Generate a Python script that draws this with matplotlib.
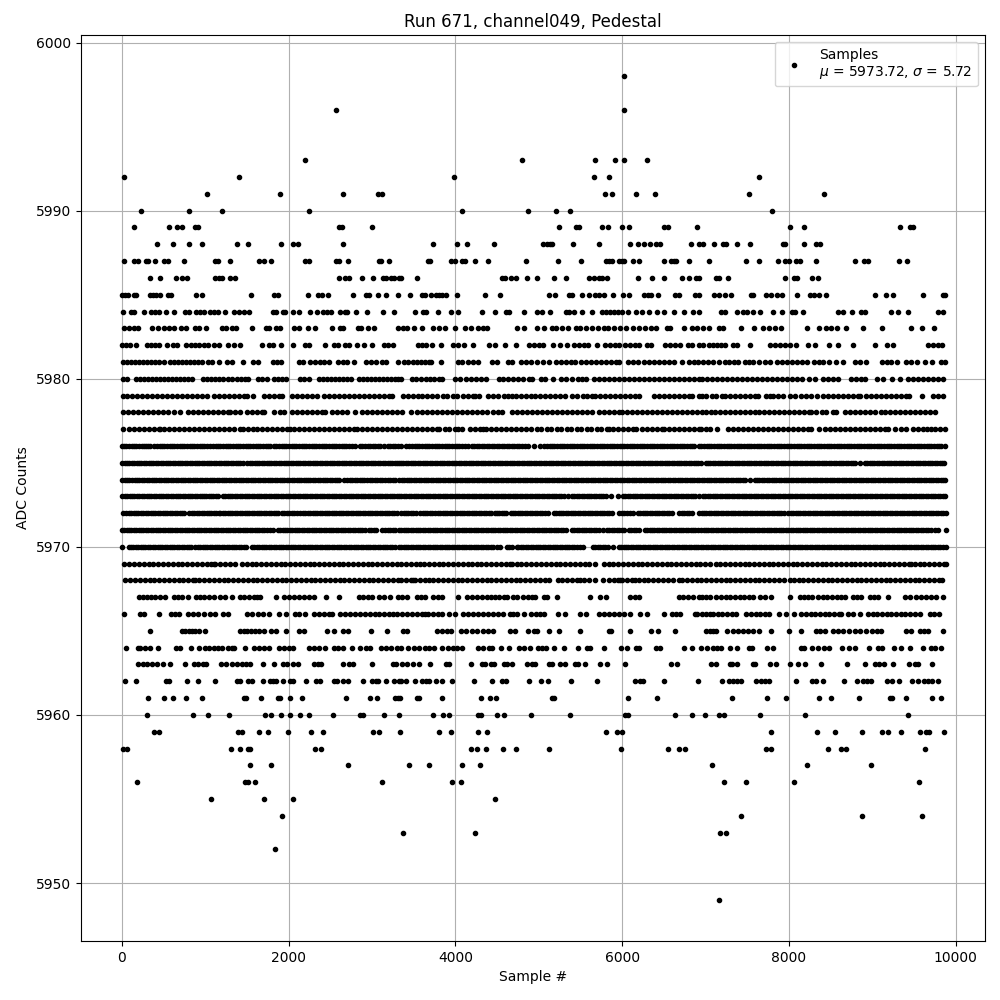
import matplotlib
matplotlib.use('Agg')
import matplotlib.pyplot as plt

# samples, grouped by ADC value
s5998 = [6024]
s5996 = [2564, 6016]
s5993 = [2192, 4804, 5668, 5908, 6016, 6292]
s5992 = [20, 1400, 3988, 5656, 5836, 7640]
s5991 = [1016, 1892, 2648, 3068, 3116, 5788, 5872, 6160, 6388, 7520, 8420]
s5990 = [224, 800, 1196, 2240, 4084, 4876, 5200, 5368, 7796]
s5989 = [140, 560, 656, 716, 872, 908, 2600, 2636, 2996, 5236, 5440, 5476, 5752, 5824, 5992, 6076, 6496, 6544, 6892,
         8012, 8180, 9332, 9452, 9488]
s5988 = [416, 608, 800, 956, 1376, 1508, 1904, 2048, 2108, 2648, 3736, 4024, 4144, 4468, 5044, 5092, 5128, 5152, 5404,
         5716, 6088, 6184, 6256, 6328, 6400, 6448, 6820, 6916, 6968, 7100, 7208, 7244, 7376, 7532, 7928, 7952, 8180,
         8324, 8372]
s5987 = [20, 140, 188, 284, 308, 392, 500, 548, 740, 1112, 1148, 1292, 1640, 1700, 1784, 2192, 2240, 2564, 2600, 2708,
         3080, 3104, 3200, 3676, 3700, 3952, 4000, 4084, 4120, 4240, 4396, 4852, 5224, 5500, 5800, 5836, 5872, 5956,
         5992, 6016, 6124, 6196, 6496, 6580, 6616, 6640, 6796, 7040, 7484, 7640, 7868, 7952, 8000, 8084, 8132, 8324,
         8792, 8900, 8948, 9320, 9416]
s5986 = [332, 452, 644, 716, 776, 1112, 1160, 1196, 1292, 1352, 2600, 2672, 2720, 2876, 3008, 3128, 3164, 3224, 3260,
         3320, 3344, 3544, 4564, 4600, 4672, 4732, 4864, 4972, 5176, 5320, 5596, 5656, 5716, 5752, 5812, 6184, 6352,
         6496, 6712, 6796, 6880, 6916, 7124, 7160, 7268, 7952, 8060, 8096, 8276, 8348]
s5985 = [0, 32, 68, 140, 164, 332, 368, 404, 452, 548, 584, 884, 956, 1544, 1820, 1868, 2228, 2348, 2396, 2468, 2768,
         2924, 2960, 3068, 3164, 3308, 3460, 3604, 3640, 3712, 3772, 3808, 3844, 3892, 4024, 4360, 4540, 5116, 5188,
         5356, 5392, 5512, 5596, 5668, 5716, 5776, 5884, 6004, 6076, 6256, 6304, 6340, 6424, 6628, 6676, 6868, 6916,
         7100, 7160, 7232, 7304, 7544, 7568, 7724, 7784, 7856, 7916, 8096, 8252, 8300, 8360, 8444, 9032, 9164, 9248,
         9608, 9848, 9872]
s5984 = [8, 104, 140, 260, 344, 392, 440, 524, 620, 752, 800, 884, 932, 980, 1052, 1100, 1148, 1232, 1340, 1400, 1460,
         1520, 1808, 1844, 1928, 1952, 2048, 2120, 2252, 2336, 2408, 2456, 2504, 2612, 2672, 2696, 2804, 2936, 3128,
         3260, 3520, 3616, 3652, 3796, 3952, 4036, 4324, 4480, 4612, 4648, 4824, 4972, 5032, 5128, 5320, 5356, 5416,
         5512, 5632, 5752, 5800, 5848, 5896, 5944, 5992, 6064, 6160, 6232, 6316, 6412, 6496, 6616, 6736, 6844, 6916,
         7184, 7232, 7376, 7448, 7496, 7568, 7652, 7808, 7916, 8036, 8072, 8168, 8588, 8648, 8756, 8864, 8912, 9224,
         9308, 9428, 9788, 9848]
s5983 = [20, 80, 140, 188, 356, 428, 500, 560, 620, 704, 764, 872, 920, 1004, 1196, 1244, 1316, 1364, 1556, 1724, 1760,
         1844, 1892, 2060, 2120, 2228, 2312, 2516, 2612, 2648, 2828, 2864, 2948, 3020, 3308, 3376, 3424, 3508, 3604,
         3736, 3808, 3880, 4000, 4120, 4192, 4276, 4336, 4384, 4744, 4828, 4972, 5056, 5152, 5200, 5272, 5344, 5440,
         5488, 5560, 5632, 5704, 5776, 5824, 5896, 5968, 6040, 6124, 6196, 6268, 6340, 6400, 6532, 6568, 6736, 6836,
         6892, 6968, 7040, 7160, 7208, 7424, 7580, 7688, 7760, 7832, 7904, 8216, 8360, 8444, 8504, 8576, 8684, 8888,
         9116, 9464, 9596, 9740]
s5982 = [0, 44, 92, 164, 296, 344, 392, 440, 536, 608, 656, 764, 824, 872, 920, 980, 1028, 1100, 1160, 1268, 1340, 1412,
         1676, 1760, 1808, 1904, 2048, 2192, 2240, 2432, 2540, 2588, 2672, 2720, 2816, 2900, 2996, 3140, 3188, 3248,
         3556, 3604, 3652, 3724, 3832, 3976, 4036, 4108, 4216, 4408, 4480, 4600, 4732, 4888, 4936, 4996, 5044, 5164,
         5248, 5332, 5416, 5476, 5536, 5584, 5692, 5788, 5848, 5908, 5956, 6028, 6088, 6148, 6196, 6292, 6340, 6508,
         6568, 6628, 6688, 6784, 6832, 6920, 6968, 7040, 7088, 7136, 7184, 7232, 7328, 7376, 7532, 7772, 7832, 7892,
         7952, 8012, 8084, 8228, 8312, 8480, 8588, 8768, 9032, 9176, 9248, 9668, 9728, 9788, 9836]
s5981 = [8, 56, 104, 152, 200, 248, 296, 344, 392, 440, 500, 572, 620, 668, 716, 764, 812, 860, 908, 956, 1028, 1076,
         1160, 1256, 1316, 1448, 1568, 1628, 1808, 1856, 1904, 2120, 2168, 2252, 2312, 2372, 2420, 2480, 2588, 2648,
         2696, 2780, 2924, 2984, 3044, 3116, 3164, 3308, 3388, 3436, 3496, 3544, 3592, 3640, 3688, 3712, 3832, 4036,
         4084, 4156, 4216, 4276, 4444, 4504, 4636, 4684, 4792, 4852, 4912, 4972, 5044, 5116, 5200, 5260, 5320, 5380,
         5428, 5500, 5560, 5620, 5680, 5740, 5800, 5860, 5920, 5956, 6064, 6124, 6184, 6256, 6316, 6376, 6436, 6496,
         6556, 6616, 6712, 6796, 6856, 6904, 6968, 7028, 7088, 7160, 7232, 7280, 7340, 7388, 7472, 7520, 7568, 7640,
         7712, 7772, 7856, 7916, 7976, 8036, 8096, 8156, 8216, 8300, 8360, 8408, 8480, 8564, 8648, 8792, 8852, 8924,
         9116, 9176, 9224, 9296, 9404, 9464, 9536, 9632, 9716, 9824, 9872]
s5980 = [8, 56, 164, 212, 260, 308, 356, 404, 452, 500, 548, 596, 644, 692, 740, 788, 836, 968, 1016, 1064, 1112, 1160,
         1208, 1268, 1316, 1376, 1424, 1472, 1508, 1628, 1676, 1736, 1820, 1868, 1916, 1964, 2132, 2180, 2240, 2360,
         2408, 2456, 2504, 2552, 2600, 2648, 2696, 2744, 2840, 2888, 2936, 2984, 3032, 3080, 3128, 3176, 3224, 3272,
         3308, 3352, 3484, 3532, 3592, 3652, 3700, 3748, 3808, 3844, 4000, 4060, 4132, 4192, 4252, 4312, 4372, 4528,
         4576, 4636, 4696, 4756, 4816, 4888, 4924, 5020, 5068, 5164, 5260, 5320, 5392, 5464, 5512, 5560, 5656, 5716,
         5776, 5836, 5896, 5956, 6016, 6076, 6136, 6196, 6256, 6316, 6376, 6436, 6496, 6556, 6616, 6676, 6736, 6796,
         6856, 6916, 6956, 7016, 7076, 7136, 7196, 7256, 7316, 7376, 7436, 7496, 7556, 7616, 7676, 7736, 7796, 7856,
         7916, 7976, 8036, 8096, 8156, 8240, 8312, 8408, 8468, 8528, 8588, 8744, 8804, 8864, 8912, 9056, 9128, 9236,
         9332, 9428, 9488, 9548, 9608, 9668, 9728, 9788, 9848]
s5979 = [8, 60, 124, 180, 244, 300, 364, 420, 484, 540, 604, 660, 724, 780, 844, 900, 964, 1020, 1100, 1160, 1220, 1280,
         1340, 1400, 1460, 1500, 1568, 1700, 1760, 1820, 1880, 1920, 2040, 2100, 2164, 2220, 2284, 2340, 2420, 2484,
         2540, 2604, 2660, 2724, 2780, 2844, 2900, 2960, 3024, 3084, 3144, 3200, 3240, 3376, 3436, 3496, 3556, 3604,
         3664, 3724, 3784, 3848, 3904, 3968, 4024, 4088, 4148, 4208, 4236, 4288, 4396, 4456, 4516, 4580, 4636, 4676,
         4728, 4788, 4848, 4908, 4956, 5008, 5068, 5128, 5188, 5248, 5316, 5400, 5460, 5524, 5580, 5640, 5676, 5728,
         5788, 5852, 5908, 5972, 6028, 6092, 6148, 6196, 6376, 6436, 6500, 6556, 6620, 6676, 6740, 6796, 6836, 6916,
         6952, 7008, 7072, 7128, 7192, 7228, 7288, 7352, 7408, 7472, 7528, 7592, 7628, 7720, 7772, 7808, 7868, 7928,
         8008, 8068, 8148, 8208, 8268, 8336, 8408, 8468, 8532, 8588, 8652, 8708, 8772, 8828, 8856, 8920, 8984, 9040,
         9104, 9160, 9224, 9280, 9344, 9400, 9440, 9600, 9728, 9788, 9848]
s5978 = [12, 72, 132, 196, 252, 316, 372, 436, 492, 556, 620, 692, 788, 852, 908, 972, 1028, 1092, 1148, 1212, 1268,
         1292, 1352, 1420, 1500, 1564, 1620, 1680, 1708, 1820, 1900, 1950, 2040, 2104, 2160, 2224, 2280, 2344, 2400,
         2440, 2520, 2580, 2640, 2700, 2800, 2880, 2940, 3000, 3060, 3120, 3180, 3240, 3300, 3364, 3472, 3536, 3596,
         3660, 3716, 3780, 3836, 3900, 3956, 4020, 4076, 4140, 4196, 4256, 4316, 4376, 4456, 4516, 4556, 4676, 4736,
         4800, 4856, 4920, 4976, 5040, 5096, 5160, 5216, 5280, 5336, 5400, 5456, 5520, 5576, 5636, 5716, 5776, 5840,
         5900, 5960, 5996, 6056, 6116, 6180, 6236, 6300, 6356, 6420, 6476, 6540, 6596, 6660, 6716, 6780, 6836, 6900,
         6952, 7008, 7068, 7108, 7172, 7228, 7292, 7348, 7412, 7468, 7532, 7588, 7640, 7696, 7756, 7820, 7876, 7940,
         7996, 8060, 8116, 8180, 8236, 8268, 8328, 8392, 8448, 8528, 8568, 8668, 8728, 8792, 8848, 8912, 8968, 9032,
         9108, 9148, 9208, 9268, 9332, 9388, 9452, 9508, 9572, 9628, 9692, 9752]
s5977 = [8, 84, 140, 204, 260, 324, 380, 444, 460, 500, 564, 620, 684, 740, 804, 860, 924, 980, 1044, 1100, 1160, 1224,
         1280, 1344, 1412, 1452, 1516, 1576, 1620, 1680, 1744, 1800, 1864, 1920, 1984, 2020, 2060, 2124, 2180, 2244,
         2300, 2364, 2420, 2484, 2540, 2604, 2660, 2724, 2780, 2820, 2880, 2944, 3000, 3064, 3120, 3184, 3240, 3300,
         3356, 3420, 3476, 3540, 3596, 3660, 3716, 3776, 3808, 3872, 3928, 3992, 4036, 4076, 4176, 4240, 4296, 4336,
         4368, 4428, 4492, 4548, 4612, 4668, 4732, 4788, 4852, 4908, 4972, 5028, 5092, 5148, 5212, 5268, 5332, 5388,
         5452, 5508, 5572, 5628, 5692, 5748, 5812, 5836, 5884, 5944, 6008, 6064, 6128, 6168, 6236, 6300, 6360, 6420,
         6480, 6504, 6556, 6620, 6676, 6740, 6796, 6860, 6916, 6948, 7008, 7048, 7136, 7268, 7332, 7388, 7452, 7508,
         7572, 7628, 7692, 7748, 7812, 7868, 7932, 7988, 8052, 8108, 8172, 8228, 8268, 8360, 8428, 8492, 8548, 8612,
         8668, 8732, 8788, 8852, 8908, 8972, 9028, 9092, 9148, 9188, 9268, 9340, 9408, 9488, 9552, 9608, 9660, 9708,
         9748, 9808, 9868]
s5976 = [0, 26, 52, 84, 116, 144, 172, 204, 236, 264, 292, 316, 340, 388, 420, 452, 480, 508, 540, 572, 600, 628, 660,
         692, 720, 748, 780, 812, 840, 868, 900, 932, 960, 988, 1020, 1060, 1092, 1124, 1152, 1180, 1212, 1244, 1272,
         1300, 1332, 1364, 1392, 1420, 1452, 1484, 1512, 1540, 1572, 1604, 1632, 1660, 1692, 1724, 1752, 1780, 1820,
         1852, 1884, 1916, 1944, 1972, 2004, 2036, 2064, 2092, 2124, 2156, 2184, 2212, 2244, 2276, 2304, 2332, 2364,
         2396, 2424, 2452, 2484, 2516, 2544, 2572, 2604, 2636, 2664, 2692, 2724, 2756, 2800, 2852, 2884, 2916, 2948,
         2980, 3010, 3040, 3070, 3100, 3140, 3188, 3220, 3252, 3280, 3310, 3348, 3408, 3448, 3480, 3512, 3540, 3568,
         3600, 3632, 3660, 3688, 3720, 3752, 3780, 3808, 3840, 3872, 3900, 3928, 3960, 3992, 4020, 4048, 4080, 4112,
         4156, 4196, 4228, 4260, 4288, 4316, 4348, 4380, 4408, 4436, 4468, 4500, 4528, 4556, 4588, 4620, 4648, 4676,
         4708, 4740, 4768, 4796, 4836, 4876, 4940, 5016, 5064, 5096, 5128, 5156, 5184, 5216, 5248, 5276, 5304, 5336,
         5368, 5396, 5424, 5456, 5488, 5516, 5544, 5576, 5608, 5636, 5664, 5696, 5728, 5756, 5784, 5816, 5848, 5876,
         5904, 5936, 5968, 5996, 6024, 6056, 6088, 6116, 6144, 6176, 6208, 6236, 6264, 6296, 6328, 6356, 6384, 6416,
         6448, 6476, 6504, 6536, 6568, 6596, 6624, 6656, 6688, 6716, 6744, 6776, 6808, 6836, 6864, 6916, 6948, 6980,
         7012, 7040, 7068, 7100, 7132, 7160, 7188, 7220, 7252, 7280, 7308, 7340, 7372, 7400, 7428, 7460, 7492, 7520,
         7548, 7580, 7612, 7640, 7668, 7700, 7732, 7760, 7788, 7820, 7852, 7880, 7908, 7940, 7972, 8000, 8028, 8060,
         8092, 8120, 8148, 8180, 8212, 8240, 8268, 8300, 8332, 8360, 8388, 8420, 8452, 8480, 8508, 8540, 8572, 8600,
         8628, 8660, 8692, 8720, 8748, 8780, 8812, 8840, 8868, 8900, 8932, 8960, 8988, 9020, 9052, 9080, 9108, 9140,
         9172, 9200, 9228, 9260, 9292, 9320, 9348, 9380, 9412, 9440, 9468, 9500, 9532, 9560, 9588, 9620, 9652, 9680,
         9708, 9740, 9772, 9800, 9828, 9868]
s5975 = [4, 32, 60, 88, 116, 146, 176, 204, 232, 262, 292, 320, 348, 378, 408, 436, 464, 494, 524, 552, 580, 610, 640,
         668, 696, 726, 756, 784, 812, 842, 872, 900, 928, 958, 988, 1016, 1044, 1074, 1104, 1132, 1160, 1190, 1220,
         1248, 1276, 1306, 1336, 1364, 1392, 1422, 1452, 1500, 1532, 1562, 1592, 1620, 1648, 1678, 1708, 1736, 1764,
         1794, 1824, 1852, 1880, 1910, 1940, 1968, 1996, 2026, 2056, 2084, 2112, 2142, 2172, 2200, 2228, 2258, 2288,
         2316, 2344, 2374, 2404, 2432, 2460, 2490, 2520, 2548, 2576, 2606, 2636, 2664, 2692, 2722, 2752, 2780, 2808,
         2838, 2868, 2896, 2924, 2954, 2984, 3012, 3040, 3070, 3100, 3128, 3156, 3186, 3216, 3244, 3272, 3296, 3320,
         3348, 3376, 3404, 3432, 3462, 3492, 3520, 3548, 3578, 3608, 3636, 3664, 3694, 3724, 3752, 3780, 3810, 3840,
         3868, 3896, 3926, 3956, 3984, 4012, 4042, 4072, 4100, 4128, 4158, 4188, 4216, 4244, 4274, 4304, 4332, 4360,
         4390, 4420, 4448, 4476, 4506, 4536, 4564, 4592, 4622, 4652, 4680, 4708, 4738, 4768, 4796, 4824, 4854, 4884,
         4912, 4940, 4970, 5000, 5028, 5056, 5086, 5116, 5144, 5172, 5202, 5232, 5260, 5288, 5318, 5348, 5376, 5404,
         5434, 5464, 5492, 5520, 5550, 5580, 5608, 5636, 5666, 5696, 5724, 5752, 5782, 5812, 5840, 5868, 5898, 5928,
         5956, 5984, 6014, 6044, 6072, 6100, 6130, 6160, 6188, 6216, 6246, 6276, 6304, 6332, 6362, 6392, 6420, 6448,
         6478, 6508, 6536, 6564, 6594, 6624, 6652, 6680, 6710, 6740, 6768, 6796, 6826, 6856, 6884, 6912, 6948, 7000,
         7028, 7056, 7086, 7116, 7144, 7172, 7202, 7232, 7260, 7288, 7318, 7348, 7376, 7404, 7434, 7464, 7492, 7520,
         7550, 7580, 7608, 7636, 7666, 7696, 7724, 7752, 7782, 7812, 7840, 7868, 7898, 7928, 7956, 7984, 8014, 8044,
         8072, 8100, 8130, 8160, 8188, 8216, 8246, 8276, 8304, 8332, 8362, 8392, 8420, 8448, 8478, 8508, 8536, 8564,
         8594, 8624, 8652, 8680, 8710, 8740, 8768, 8796, 8848, 8908, 8938, 8968, 8996, 9024, 9054, 9084, 9112, 9140,
         9170, 9200, 9228, 9256, 9286, 9316, 9344, 9372, 9402, 9432, 9460, 9488, 9518, 9548, 9576, 9604, 9634, 9664,
         9692, 9720, 9750, 9780, 9808, 9836, 9856]
s5974 = [4, 32, 60, 88, 116, 160, 180, 210, 240, 268, 296, 326, 356, 384, 412, 442, 472, 500, 528, 558, 588, 616, 644,
         674, 704, 732, 760, 790, 820, 848, 876, 906, 936, 964, 992, 1022, 1052, 1080, 1108, 1138, 1168, 1196, 1224,
         1254, 1284, 1312, 1340, 1370, 1400, 1428, 1456, 1486, 1516, 1544, 1572, 1602, 1632, 1660, 1688, 1718, 1748,
         1776, 1804, 1834, 1864, 1892, 1920, 1950, 1980, 2008, 2036, 2066, 2096, 2124, 2152, 2182, 2212, 2236, 2260,
         2290, 2320, 2348, 2376, 2406, 2436, 2464, 2492, 2522, 2552, 2580, 2608, 2660, 2704, 2734, 2764, 2792, 2820,
         2850, 2880, 2900, 2940, 2970, 3000, 3030, 3060, 3090, 3120, 3160, 3188, 3216, 3246, 3276, 3320, 3356, 3386,
         3416, 3444, 3472, 3502, 3532, 3560, 3588, 3618, 3648, 3676, 3704, 3734, 3764, 3792, 3820, 3850, 3880, 3908,
         3936, 3966, 3996, 4024, 4052, 4082, 4112, 4140, 4168, 4198, 4228, 4256, 4284, 4314, 4344, 4372, 4400, 4430,
         4460, 4488, 4516, 4546, 4576, 4604, 4632, 4662, 4692, 4720, 4748, 4778, 4808, 4836, 4864, 4894, 4924, 4952,
         4980, 5010, 5040, 5068, 5096, 5126, 5156, 5184, 5212, 5242, 5272, 5300, 5328, 5358, 5388, 5416, 5444, 5474,
         5504, 5532, 5560, 5590, 5620, 5648, 5676, 5706, 5736, 5764, 5792, 5822, 5852, 5880, 5908, 5938, 5968, 5996,
         6024, 6054, 6084, 6112, 6140, 6170, 6200, 6228, 6256, 6286, 6316, 6344, 6372, 6402, 6432, 6460, 6488, 6518,
         6548, 6576, 6604, 6634, 6664, 6692, 6720, 6750, 6780, 6808, 6836, 6866, 6896, 6924, 6952, 6982, 7012, 7040,
         7068, 7098, 7128, 7156, 7184, 7214, 7244, 7272, 7300, 7330, 7360, 7388, 7416, 7446, 7476, 7528, 7588, 7616,
         7644, 7674, 7704, 7732, 7760, 7790, 7820, 7848, 7876, 7906, 7936, 7964, 7992, 8022, 8052, 8080, 8108, 8138,
         8168, 8196, 8224, 8254, 8284, 8312, 8340, 8370, 8400, 8428, 8456, 8486, 8516, 8544, 8572, 8602, 8632, 8660,
         8688, 8718, 8748, 8776, 8804, 8834, 8864, 8892, 8920, 8950, 8980, 9008, 9036, 9066, 9096, 9124, 9152, 9182,
         9212, 9240, 9268, 9298, 9328, 9356, 9384, 9414, 9444, 9472, 9500, 9530, 9560, 9588, 9616, 9646, 9676, 9704,
         9732, 9762, 9792, 9820, 9848, 9868]
s5973 = [4, 34, 64, 92, 120, 150, 180, 208, 236, 266, 296, 324, 352, 382, 412, 440, 468, 498, 528, 556, 584, 614, 644,
         672, 700, 730, 760, 788, 816, 846, 876, 904, 932, 960, 980, 1010, 1040, 1068, 1096, 1126, 1156, 1212, 1240,
         1268, 1296, 1326, 1356, 1384, 1412, 1442, 1472, 1500, 1528, 1558, 1588, 1616, 1644, 1674, 1704, 1732, 1760,
         1790, 1820, 1848, 1876, 1906, 1936, 1964, 1992, 2022, 2052, 2080, 2108, 2138, 2168, 2196, 2224, 2254, 2284,
         2312, 2340, 2370, 2400, 2428, 2456, 2486, 2516, 2544, 2572, 2602, 2632, 2660, 2688, 2718, 2748, 2776, 2804,
         2834, 2864, 2892, 2920, 2950, 2980, 3008, 3036, 3066, 3096, 3124, 3152, 3182, 3212, 3240, 3268, 3296, 3320,
         3352, 3382, 3412, 3440, 3468, 3498, 3528, 3556, 3584, 3614, 3644, 3672, 3700, 3730, 3760, 3788, 3816, 3846,
         3876, 3904, 3932, 3962, 3992, 4020, 4048, 4078, 4108, 4136, 4164, 4194, 4224, 4252, 4280, 4310, 4340, 4368,
         4396, 4426, 4456, 4484, 4512, 4542, 4572, 4600, 4628, 4658, 4688, 4716, 4744, 4774, 4804, 4832, 4860, 4890,
         4920, 4948, 4976, 5006, 5036, 5064, 5092, 5122, 5152, 5180, 5208, 5238, 5268, 5296, 5344, 5396, 5426, 5456,
         5484, 5512, 5542, 5572, 5600, 5628, 5658, 5688, 5716, 5744, 5774, 5804, 5864, 5944, 6008, 6036, 6064, 6094,
         6124, 6152, 6180, 6210, 6240, 6268, 6296, 6326, 6356, 6384, 6412, 6442, 6472, 6500, 6528, 6558, 6588, 6616,
         6644, 6674, 6704, 6732, 6760, 6790, 6820, 6848, 6876, 6916, 6968, 6996, 7024, 7054, 7084, 7112, 7140, 7170,
         7200, 7228, 7256, 7286, 7316, 7344, 7372, 7402, 7432, 7460, 7488, 7518, 7548, 7576, 7604, 7634, 7664, 7692,
         7720, 7750, 7780, 7808, 7836, 7866, 7896, 7924, 7952, 7982, 8012, 8040, 8068, 8098, 8128, 8156, 8184, 8214,
         8244, 8272, 8300, 8330, 8360, 8388, 8416, 8446, 8476, 8504, 8532, 8562, 8592, 8620, 8648, 8678, 8708, 8736,
         8764, 8794, 8824, 8852, 8880, 8910, 8940, 8968, 8996, 9026, 9056, 9088, 9120, 9148, 9176, 9206, 9236, 9264,
         9292, 9322, 9352, 9380, 9408, 9438, 9468, 9496, 9524, 9554, 9584, 9612, 9640, 9670, 9700, 9728, 9756, 9786,
         9816, 9844, 9868]
s5972 = [8, 52, 82, 112, 140, 168, 198, 228, 256, 284, 314, 344, 372, 400, 430, 460, 488, 516, 546, 576, 604, 632, 662,
         692, 720, 748, 800, 840, 870, 900, 928, 956, 986, 1016, 1044, 1072, 1102, 1132, 1160, 1180, 1210, 1240, 1268,
         1296, 1326, 1356, 1384, 1412, 1442, 1472, 1500, 1528, 1558, 1588, 1616, 1644, 1674, 1704, 1732, 1760, 1790,
         1820, 1848, 1876, 1920, 1950, 1980, 2010, 2038, 2066, 2100, 2140, 2170, 2200, 2228, 2256, 2286, 2316, 2344,
         2372, 2402, 2432, 2460, 2488, 2518, 2548, 2572, 2600, 2628, 2656, 2686, 2716, 2744, 2772, 2802, 2832, 2860,
         2888, 2918, 2948, 2976, 3004, 3034, 3064, 3092, 3120, 3150, 3180, 3208, 3236, 3266, 3296, 3348, 3378, 3408,
         3436, 3464, 3494, 3524, 3576, 3606, 3636, 3664, 3692, 3724, 3756, 3788, 3818, 3848, 3876, 3904, 3934, 3964,
         3992, 4020, 4050, 4080, 4108, 4136, 4166, 4196, 4224, 4252, 4282, 4312, 4340, 4368, 4398, 4428, 4476, 4496,
         4526, 4556, 4584, 4612, 4664, 4688, 4718, 4748, 4776, 4804, 4834, 4864, 4892, 4920, 4950, 4980, 5008, 5036,
         5070, 5104, 5176, 5206, 5236, 5264, 5292, 5322, 5352, 5380, 5408, 5438, 5468, 5496, 5524, 5554, 5584, 5612,
         5640, 5670, 5700, 5728, 5756, 5786, 5816, 5844, 5876, 5956, 5996, 6026, 6056, 6090, 6124, 6184, 6214, 6244,
         6272, 6300, 6330, 6360, 6388, 6416, 6446, 6476, 6504, 6532, 6562, 6592, 6676, 6716, 6746, 6776, 6804, 6832,
         6916, 6952, 6980, 7008, 7038, 7068, 7096, 7124, 7154, 7184, 7212, 7240, 7270, 7300, 7328, 7356, 7386, 7416,
         7444, 7472, 7502, 7532, 7560, 7588, 7618, 7648, 7676, 7704, 7734, 7764, 7792, 7820, 7850, 7880, 7908, 7936,
         7988, 8020, 8050, 8080, 8108, 8136, 8166, 8196, 8224, 8252, 8282, 8312, 8340, 8368, 8398, 8428, 8456, 8484,
         8514, 8544, 8572, 8600, 8630, 8660, 8688, 8716, 8746, 8776, 8804, 8832, 8862, 8892, 8920, 8948, 8978, 9008,
         9036, 9064, 9094, 9124, 9152, 9180, 9210, 9240, 9268, 9296, 9326, 9356, 9384, 9412, 9442, 9472, 9500, 9528,
         9558, 9588, 9616, 9644, 9674, 9704, 9732, 9760, 9790, 9820, 9850, 9880]
s5971 = [0, 28, 56, 84, 112, 142, 172, 200, 228, 258, 288, 316, 344, 374, 404, 432, 460, 490, 520, 548, 576, 606, 636,
         664, 692, 722, 752, 780, 808, 838, 868, 896, 924, 954, 984, 1012, 1040, 1070, 1100, 1128, 1156, 1186, 1216,
         1244, 1272, 1302, 1332, 1360, 1388, 1418, 1448, 1476, 1504, 1534, 1564, 1592, 1620, 1650, 1680, 1708, 1736,
         1774, 1812, 1868, 1898, 1928, 1956, 1984, 2014, 2044, 2072, 2100, 2130, 2160, 2188, 2216, 2246, 2276, 2304,
         2332, 2362, 2392, 2420, 2448, 2478, 2508, 2536, 2564, 2594, 2624, 2652, 2680, 2710, 2740, 2768, 2796, 2826,
         2856, 2884, 2912, 2960, 2988, 3018, 3048, 3120, 3160, 3190, 3220, 3248, 3276, 3320, 3348, 3378, 3408, 3436,
         3464, 3494, 3524, 3552, 3580, 3610, 3640, 3668, 3696, 3726, 3756, 3784, 3812, 3842, 3872, 3900, 3928, 3958,
         3988, 4016, 4044, 4074, 4104, 4132, 4160, 4190, 4220, 4248, 4276, 4306, 4336, 4364, 4392, 4422, 4452, 4480,
         4508, 4538, 4568, 4596, 4624, 4654, 4684, 4712, 4740, 4770, 4800, 4828, 4856, 4886, 4916, 4944, 4972, 5002,
         5032, 5060, 5088, 5118, 5148, 5176, 5204, 5234, 5264, 5292, 5320, 5396, 5424, 5454, 5484, 5512, 5540, 5570,
         5600, 5628, 5656, 5686, 5716, 5764, 5816, 5846, 5876, 5904, 5932, 5962, 5992, 6024, 6076, 6106, 6136, 6166,
         6196, 6268, 6298, 6328, 6356, 6384, 6414, 6444, 6472, 6500, 6530, 6560, 6588, 6616, 6646, 6676, 6704, 6732,
         6762, 6792, 6820, 6848, 6878, 6908, 6948, 6976, 7004, 7034, 7064, 7092, 7120, 7150, 7180, 7208, 7236, 7266,
         7296, 7324, 7352, 7382, 7412, 7440, 7468, 7498, 7528, 7556, 7584, 7614, 7644, 7672, 7700, 7730, 7760, 7788,
         7816, 7846, 7876, 7904, 7932, 7962, 7992, 8020, 8048, 8078, 8108, 8136, 8164, 8188, 8216, 8246, 8276, 8304,
         8332, 8362, 8392, 8420, 8448, 8478, 8508, 8536, 8564, 8594, 8624, 8652, 8680, 8710, 8740, 8768, 8796, 8826,
         8856, 8884, 8912, 8942, 8972, 9000, 9028, 9058, 9088, 9116, 9144, 9174, 9204, 9232, 9260, 9290, 9320, 9348,
         9376, 9406, 9436, 9464, 9492, 9522, 9552, 9580, 9608, 9638, 9668, 9708, 9748, 9788, 9880]
s5970 = [4, 80, 108, 136, 166, 196, 224, 252, 282, 312, 340, 368, 398, 428, 456, 484, 514, 544, 572, 600, 630, 660, 688,
         716, 746, 776, 804, 832, 880, 908, 938, 968, 996, 1024, 1054, 1084, 1112, 1140, 1170, 1200, 1228, 1256, 1286,
         1316, 1344, 1372, 1402, 1432, 1460, 1488, 1560, 1588, 1618, 1648, 1676, 1704, 1734, 1764, 1792, 1820, 1850,
         1880, 1908, 1936, 1966, 1996, 2024, 2052, 2082, 2112, 2140, 2168, 2198, 2228, 2256, 2284, 2314, 2344, 2372,
         2400, 2430, 2460, 2488, 2516, 2546, 2576, 2604, 2632, 2662, 2692, 2720, 2748, 2778, 2808, 2836, 2864, 2894,
         2924, 2952, 2980, 3010, 3040, 3068, 3096, 3126, 3156, 3184, 3212, 3242, 3272, 3320, 3348, 3378, 3408, 3436,
         3464, 3494, 3524, 3552, 3580, 3610, 3640, 3668, 3696, 3726, 3756, 3784, 3812, 3842, 3872, 3900, 3928, 3958,
         3988, 4016, 4044, 4074, 4104, 4132, 4160, 4190, 4220, 4248, 4276, 4306, 4336, 4364, 4392, 4422, 4452, 4494,
         4536, 4616, 4646, 4676, 4736, 4756, 4786, 4816, 4844, 4872, 4902, 4932, 4960, 4988, 5018, 5048, 5076, 5104,
         5134, 5164, 5192, 5220, 5250, 5280, 5308, 5336, 5366, 5396, 5424, 5452, 5490, 5528, 5648, 5678, 5708, 5736,
         5764, 5794, 5824, 5884, 5956, 5986, 6016, 6044, 6072, 6102, 6132, 6160, 6188, 6218, 6248, 6276, 6304, 6334,
         6364, 6392, 6420, 6450, 6480, 6508, 6536, 6566, 6596, 6624, 6652, 6682, 6712, 6740, 6768, 6798, 6828, 6856,
         6884, 6914, 6944, 6972, 7000, 7030, 7060, 7088, 7116, 7146, 7176, 7204, 7232, 7262, 7292, 7320, 7348, 7378,
         7408, 7436, 7464, 7494, 7524, 7552, 7580, 7610, 7640, 7668, 7696, 7726, 7756, 7784, 7812, 7842, 7872, 7900,
         7928, 7958, 7988, 8016, 8044, 8074, 8104, 8132, 8160, 8190, 8220, 8248, 8276, 8306, 8336, 8364, 8392, 8422,
         8452, 8480, 8508, 8538, 8568, 8596, 8624, 8654, 8684, 8712, 8740, 8770, 8800, 8828, 8856, 8886, 8916, 8944,
         8972, 9002, 9032, 9060, 9088, 9118, 9148, 9176, 9204, 9234, 9264, 9292, 9320, 9350, 9380, 9408, 9436, 9466,
         9496, 9524, 9552, 9582, 9612, 9640, 9668, 9698, 9728, 9756, 9784, 9814, 9844, 9888]
s5969 = [28, 88, 144, 204, 260, 320, 376, 436, 492, 552, 608, 668, 724, 784, 840, 900, 956, 1016, 1072, 1100, 1120, 1180,
         1240, 1300, 1360, 1440, 1496, 1556, 1612, 1672, 1728, 1788, 1844, 1904, 1960, 2020, 2076, 2136, 2192, 2252,
         2308, 2368, 2424, 2484, 2540, 2600, 2656, 2716, 2772, 2832, 2888, 2948, 3004, 3064, 3120, 3180, 3236, 3296,
         3348, 3408, 3464, 3524, 3576, 3624, 3684, 3740, 3800, 3856, 3916, 3972, 4032, 4088, 4156, 4196, 4256, 4312,
         4372, 4428, 4488, 4544, 4604, 4656, 4676, 4736, 4792, 4852, 4908, 4968, 5024, 5084, 5140, 5200, 5256, 5316,
         5372, 5432, 5488, 5548, 5604, 5676, 5776, 5836, 5892, 5952, 6008, 6068, 6124, 6184, 6240, 6300, 6356, 6416,
         6472, 6532, 6588, 6648, 6704, 6764, 6820, 6880, 6936, 6988, 7048, 7120, 7176, 7236, 7292, 7352, 7408, 7468,
         7524, 7584, 7640, 7700, 7756, 7808, 7868, 7928, 7984, 8044, 8100, 8160, 8216, 8276, 8332, 8392, 8448, 8508,
         8564, 8624, 8680, 8740, 8796, 8856, 8912, 8972, 9028, 9088, 9144, 9204, 9260, 9320, 9376, 9436, 9468, 9508,
         9568, 9624, 9684, 9740, 9800, 9856, 9888]
s5968 = [40, 100, 156, 216, 272, 332, 388, 448, 504, 564, 620, 680, 736, 796, 852, 880, 928, 988, 1044, 1104, 1160, 1220,
         1276, 1336, 1392, 1452, 1508, 1568, 1624, 1684, 1740, 1800, 1856, 1916, 1972, 2032, 2088, 2148, 2204, 2264,
         2320, 2380, 2436, 2496, 2552, 2612, 2668, 2728, 2784, 2844, 2900, 2960, 3016, 3076, 3132, 3192, 3248, 3308,
         3348, 3408, 3464, 3496, 3516, 3576, 3632, 3688, 3736, 3796, 3852, 3912, 3968, 4028, 4084, 4144, 4200, 4260,
         4316, 4376, 4432, 4492, 4548, 4608, 4664, 4724, 4780, 4840, 4896, 4956, 5012, 5072, 5116, 5224, 5276, 5336,
         5392, 5452, 5496, 5536, 5596, 5668, 5764, 5836, 5896, 5952, 5976, 5996, 6056, 6112, 6148, 6196, 6256, 6312,
         6372, 6428, 6488, 6544, 6604, 6676, 6716, 6776, 6832, 6892, 6948, 7008, 7064, 7124, 7180, 7240, 7296, 7356,
         7412, 7472, 7528, 7588, 7644, 7704, 7760, 7820, 7876, 7936, 8008, 8056, 8116, 8172, 8232, 8288, 8348, 8404,
         8464, 8520, 8580, 8636, 8696, 8752, 8812, 8868, 8928, 8984, 9044, 9100, 9160, 9216, 9276, 9332, 9392, 9448,
         9508, 9564, 9624, 9680, 9740, 9796, 9840]
s5967 = [200, 250, 300, 350, 400, 460, 520, 620, 670, 720, 788, 888, 940, 990, 1040, 1100, 1172, 1240, 1320, 1412, 1468,
         1524, 1580, 1620, 1660, 1852, 1948, 2004, 2060, 2120, 2180, 2240, 2300, 2444, 2604, 2840, 2890, 2950, 3000,
         3080, 3140, 3212, 3308, 3364, 3424, 3544, 3590, 3636, 3736, 3790, 3836, 4036, 4144, 4200, 4260, 4320, 4376,
         4424, 4476, 4528, 4580, 4624, 4688, 4744, 4816, 4870, 4920, 4956, 5056, 5096, 5216, 5616, 5736, 5804, 6096,
         6148, 6196, 6676, 6730, 6790, 6850, 6916, 6960, 7010, 7048, 7128, 7184, 7240, 7296, 7352, 7408, 7464, 7520,
         7568, 7656, 7708, 7788, 8012, 8128, 8180, 8232, 8280, 8348, 8404, 8460, 8516, 8572, 8628, 8668, 8768, 8820,
         8868, 8968, 9020, 9068, 9188, 9388, 9448, 9528, 9584, 9640, 9708, 9768, 9848]
s5966 = [20, 220, 268, 440, 588, 640, 680, 788, 852, 908, 980, 1052, 1120, 1212, 1268, 1500, 1564, 1628, 1692, 1764,
         1880, 1964, 2072, 2120, 2192, 2300, 2360, 2420, 2480, 2520, 2620, 2680, 2740, 2800, 2860, 2920, 2980, 3040, 3080,
         3140, 3200, 3250, 3300, 3356, 3416, 3476, 3536, 3596, 3636, 3676, 3736, 3796, 3844, 3928, 3996, 4096, 4156,
         4216, 4276, 4336, 4396, 4456, 4516, 4576, 4656, 4696, 4736, 4824, 4904, 4964, 5012, 5064, 5224, 5308, 5488,
         5560, 5716, 5776, 5836, 5896, 5956, 6016, 6096, 6216, 6296, 6496, 6596, 6640, 6696, 6876, 6900, 6960, 7010,
         7050, 7088, 7148, 7200, 7256, 7312, 7368, 7488, 7544, 7600, 7656, 7708, 7760, 7880, 7968, 8056, 8148, 8204,
         8260, 8316, 8372, 8428, 8484, 8540, 8596, 8628, 8708, 8772, 8848, 8948, 9004, 9060, 9116, 9172, 9228, 9284,
         9340, 9396, 9452, 9508, 9568, 9688, 9744, 9800]
s5965 = [332, 720, 760, 800, 840, 880, 920, 1000, 1420, 1460, 1500, 1550, 1600, 1650, 1700, 1784, 1844, 1964, 2120, 2180,
         2456, 2540, 2648, 2708, 2984, 3176, 3376, 3416, 3776, 3836, 3896, 3952, 4068, 4130, 4196, 4256, 4336, 4396,
         4448, 4656, 4720, 4876, 4936, 4976, 5116, 5236, 5488, 5836, 5864, 6088, 6340, 6424, 6628, 7008, 7050, 7090,
         7128, 7256, 7328, 7390, 7450, 7508, 7568, 7640, 7784, 8000, 8144, 8324, 8376, 8428, 8528, 8590, 8650, 8720,
         8788, 8848, 8928, 8990, 9050, 9108, 9408, 9468, 9568, 9620, 9668, 9848]
s5964 = [44, 188, 212, 272, 332, 428, 644, 692, 824, 920, 992, 1040, 1100, 1148, 1196, 1268, 1316, 1340, 1472, 1580,
         1640, 1700, 1760, 1880, 1940, 2000, 2048, 2240, 2300, 2360, 2440, 2540, 2588, 2648, 2756, 2852, 2924, 2972,
         3104, 3164, 3224, 3296, 3352, 3436, 3508, 3568, 3640, 3688, 3748, 3844, 3916, 3976, 4024, 4084, 4276, 4336,
         4408, 4444, 4552, 4648, 4768, 4828, 4900, 4984, 5032, 5080, 5176, 5296, 5464, 5572, 5608, 5776, 5980, 6052,
         6160, 6196, 6400, 6448, 6736, 6832, 6944, 7016, 7088, 7136, 7184, 7292, 7376, 7520, 7556, 7736, 7808, 8144,
         8180, 8276, 8348, 8420, 8480, 8636, 8720, 8792, 8960, 9068, 9116, 9260, 9344, 9452, 9608, 9704, 9752, 9824]
s5963 = [188, 248, 296, 356, 416, 488, 572, 752, 860, 908, 968, 1012, 1184, 1244, 1316, 1376, 1436, 1484, 1532, 1688,
         1820, 1928, 1976, 2048, 2108, 2300, 2348, 2384, 2648, 2720, 2768, 2996, 3248, 3284, 3364, 3424, 3496, 3568,
         3700, 3892, 3928, 4192, 4324, 4360, 4432, 4468, 4588, 4624, 4684, 4864, 4924, 4948, 5116, 5152, 5248, 5308,
         5428, 5464, 5548, 5728, 5812, 6028, 6580, 6652, 7064, 7124, 7292, 7316, 7376, 7568, 7592, 7772, 7844, 8012,
         8108, 8192, 8384, 8696, 8912, 9032, 9080, 9140, 9248, 9440, 9512, 9548, 9716]
s5962 = [32, 164, 524, 560, 776, 908, 1112, 1376, 1412, 1508, 1556, 1688, 1772, 1808, 1844, 1928, 2012, 2048, 2204, 2324,
         2372, 2540, 2576, 2648, 2708, 2888, 2996, 3044, 3068, 3164, 3260, 3320, 3352, 3412, 3520, 3604, 3652, 3688,
         3772, 3844, 3964, 4228, 4444, 4564, 4612, 4888, 5020, 5104, 5380, 5692, 6148, 6208, 6244, 6496, 6908, 7196,
         7280, 7328, 7376, 7424, 7604, 7664, 7712, 7760, 8084, 8276, 8324, 8408, 8660, 8816, 8888, 8936, 8984, 9176,
         9236, 9320, 9476, 9548, 9620, 9668, 9716, 9788]
s5961 = [308, 500, 608, 764, 956, 1460, 1484, 1664, 1868, 1892, 2012, 2156, 2684, 2972, 3056, 3272, 3308, 3340, 3544,
         3568, 3844, 4312, 4420, 4492, 5152, 5176, 6064, 6412, 7316, 7736, 7964, 8360, 8504, 8840, 9212, 9236, 9404,
         9716, 9824]
s5960 = [296, 848, 1028, 1280, 1712, 1784, 1904, 2012, 2132, 2240, 2528, 2852, 2888, 3140, 3320, 3736, 3856, 3928, 4276,
         4312, 4504, 4588, 4912, 5368, 6028, 6064, 6628, 6832, 6992, 7160, 7220, 7652, 8192, 9428]
s5959 = [380, 440, 1388, 1436, 1640, 1748, 1988, 2264, 2408, 3008, 3080, 3332, 3808, 3952, 4276, 4384, 5800, 5932, 5996,
         7784, 8336, 8552, 8876, 9116, 9188, 9344, 9572, 9644, 9680, 9860]
s5958 = [8, 56, 1304, 1412, 1508, 1532, 2312, 2384, 4192, 4264, 4372, 4576, 4732, 5116, 5980, 6544, 6676, 6748, 7724,
         7784, 8468, 8624, 8684, 9632]
s5957 = [1532, 1784, 2708, 3448, 3688, 4084, 4300, 7076, 8216, 8984]
s5956 = [176, 1472, 1508, 1592, 3116, 3964, 4072, 7220, 7484, 8060, 9560]
s5955 = [1064, 1700, 2048, 4480]
s5954 = [1916, 7424, 8876, 9596]
s5953 = [3376, 4240, 7172, 7244]
s5952 = [1832]
s5949 = [7160]

levels = {5998: s5998, 5996: s5996, 5993: s5993, 5992: s5992, 5991: s5991, 5990: s5990, 5989: s5989, 5988: s5988,
          5987: s5987, 5986: s5986, 5985: s5985, 5984: s5984, 5983: s5983, 5982: s5982, 5981: s5981, 5980: s5980,
          5979: s5979, 5978: s5978, 5977: s5977, 5976: s5976, 5975: s5975, 5974: s5974, 5973: s5973, 5972: s5972,
          5971: s5971, 5970: s5970, 5969: s5969, 5968: s5968, 5967: s5967, 5966: s5966, 5965: s5965, 5964: s5964,
          5963: s5963, 5962: s5962, 5961: s5961, 5960: s5960, 5959: s5959, 5958: s5958, 5957: s5957, 5956: s5956,
          5955: s5955, 5954: s5954, 5953: s5953, 5952: s5952, 5949: s5949}

mu = 5973.72
sigma = 5.72

xs = []
ys = []
for adc, samples in levels.items():
    xs += samples
    ys += [adc] * len(samples)

plt.figure(figsize=(10, 10), dpi=100)
plt.plot(xs, ys, 'k.', label=f'Samples\n$\\mu$ = {mu}, $\\sigma$ = {sigma}')
plt.xlim(-490, 10350)
plt.ylim(5946.55, 6000.45)
plt.title('Run 671, channel049, Pedestal')
plt.xlabel('Sample #')
plt.ylabel('ADC Counts')
plt.legend(loc='upper right')
plt.grid(True)
plt.subplots_adjust(left=0.081, right=0.985, top=0.965, bottom=0.059)
plt.savefig('out.png')
